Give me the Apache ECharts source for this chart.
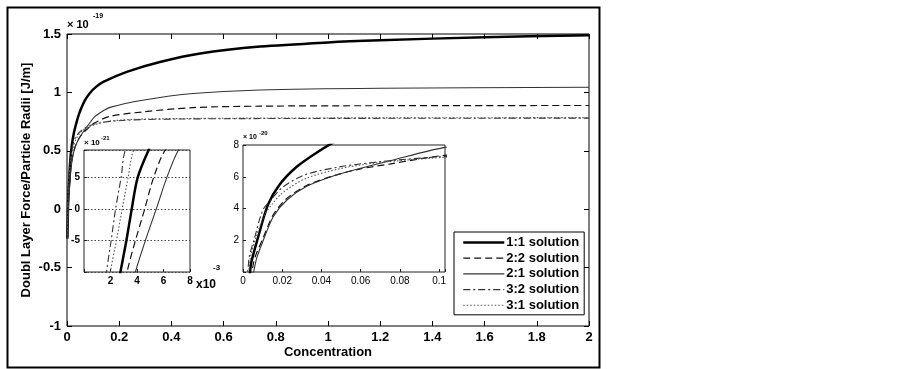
<!DOCTYPE html>
<html>
<head>
<meta charset="utf-8">
<script src="https://cdn.jsdelivr.net/npm/echarts@6/dist/echarts.min.js"></script>
<style>
  html, body { margin: 0; padding: 0; background: #fff; }
  #chart { width: 903px; height: 369px; }
</style>
</head>
<body>
<div id="chart"></div>
<script>
var seriesNames = ['1:1 solution', '2:2 solution', '2:1 solution', '3:2 solution', '3:1 solution'];

var conc11 = [0.0015, 0.00275, 0.0032, 0.0036, 0.00405, 0.00488, 0.0076, 0.0127, 0.0186, 0.0271, 0.0373, 0.0476, 0.068, 0.088, 0.11, 0.139, 0.229, 0.356, 0.51, 0.74, 1.0, 1.2, 1.6, 2.0];
var force11 = [-0.25, -0.1, -0.05, 0, 0.05, 0.094, 0.215, 0.423, 0.55, 0.66, 0.75, 0.825, 0.93, 0.995, 1.045, 1.09, 1.176, 1.26, 1.333, 1.392, 1.428, 1.446, 1.473, 1.49];

var conc22 = [0.0018, 0.00325, 0.00388, 0.00458, 0.00525, 0.00613, 0.0101, 0.0152, 0.022, 0.0322, 0.0458, 0.0594, 0.0747, 0.1028, 0.165, 0.29, 0.484, 0.74, 1.2, 2.0];
var force22 = [-0.25, -0.1, -0.05, 0, 0.05, 0.094, 0.21, 0.355, 0.46, 0.543, 0.605, 0.648, 0.68, 0.735, 0.795, 0.833, 0.87, 0.882, 0.886, 0.888];

var conc21 = [0.002, 0.00388, 0.00463, 0.00545, 0.00625, 0.00713, 0.0105, 0.0155, 0.0225, 0.0325, 0.046, 0.0594, 0.0747, 0.1028, 0.13, 0.165, 0.29, 0.484, 0.74, 1.2, 2.0];
var force21 = [-0.25, -0.1, -0.05, 0, 0.05, 0.094, 0.205, 0.35, 0.455, 0.54, 0.605, 0.652, 0.70, 0.785, 0.83, 0.872, 0.933, 0.99, 1.02, 1.035, 1.044];

var conc32 = [0.001, 0.0017, 0.00205, 0.00238, 0.0028, 0.00313, 0.0059, 0.0101, 0.014, 0.0203, 0.0322, 0.0492, 0.0662, 0.0833, 0.1023, 0.165, 0.3, 0.74, 2.0];
var force32 = [-0.25, -0.1, -0.05, 0, 0.05, 0.094, 0.215, 0.39, 0.45, 0.535, 0.615, 0.662, 0.69, 0.71, 0.727, 0.752, 0.768, 0.776, 0.78];

var conc31 = [0.0012, 0.002, 0.00245, 0.00288, 0.00333, 0.00375, 0.0065, 0.011, 0.015, 0.0203, 0.0322, 0.0492, 0.0662, 0.0833, 0.1023, 0.165, 0.3, 0.74, 2.0];
var force31 = [-0.25, -0.1, -0.05, 0, 0.05, 0.094, 0.215, 0.36, 0.43, 0.5, 0.59, 0.65, 0.685, 0.705, 0.722, 0.755, 0.772, 0.78, 0.784];

var concs = [conc11, conc22, conc21, conc32, conc31];
var forces = [force11, force22, force21, force32, force31];

var styles = [
  { color: '#000', width: 2.5, type: 'solid' },
  { color: '#111', width: 1.2, type: [7, 4] },
  { color: '#333', width: 1.1, type: 'solid' },
  { color: '#333', width: 1.1, type: [7, 3, 2, 3] },
  { color: '#555', width: 1.1, type: [1.5, 2] }
];

var FONT = 'Liberation Sans';

function pairs(xs, ys) {
  var out = [];
  for (var i = 0; i < xs.length; i++) out.push([xs[i], ys[i]]);
  return out;
}

var series = [];
[0, 2, 3].forEach(function (ax) {
  for (var i = 0; i < seriesNames.length; i++) {
    series.push({
      name: seriesNames[i],
      type: 'line',
      xAxisIndex: ax,
      yAxisIndex: ax,
      data: pairs(concs[i], forces[i]),
      showSymbol: false,
      symbol: 'none',
      smooth: 0.3,
      clip: true,
      animation: false,
      itemStyle: { color: styles[i].color },
      lineStyle: { color: styles[i].color, width: styles[i].width, type: styles[i].type }
    });
  }
});

function labelIn(list, scale) {
  return function (v) {
    var s = Math.round(v * scale * 1000) / 1000;
    return list.indexOf(s) >= 0 ? String(s) : '';
  };
}

var chart = echarts.init(document.getElementById('chart'));
chart.setOption({
  animation: false,
  backgroundColor: '#fff',
  grid: [
    { left: 67, top: 34, width: 522, height: 292, show: true, borderColor: '#000', borderWidth: 1, backgroundColor: '#fff' },
    { left: 84, top: 150, width: 106, height: 122, show: true, borderColor: '#222', borderWidth: 1, backgroundColor: '#fff' },
    { left: 243, top: 145, width: 202, height: 127, show: true, borderColor: '#222', borderWidth: 1, backgroundColor: '#fff' }
  ],
  xAxis: [
    {
      gridIndex: 0, type: 'value', min: 0, max: 2, interval: 0.2,
      name: 'Concentration', nameLocation: 'middle', nameGap: 20, nameMoveOverlap: false,
      nameTextStyle: { fontFamily: FONT, fontWeight: 'bold', fontSize: 13, color: '#000' },
      axisLine: { show: false, onZero: false },
      axisTick: { inside: true, length: 5, lineStyle: { color: '#000' } },
      axisLabel: { fontFamily: FONT, fontWeight: 'bold', fontSize: 13, color: '#000', margin: 5 },
      splitLine: { show: false }
    },
    {
      gridIndex: 0, type: 'value', position: 'top', min: 0, max: 2, interval: 0.2,
      axisLine: { show: false, onZero: false },
      axisTick: { inside: true, length: 5, lineStyle: { color: '#000' } },
      axisLabel: { show: false }, splitLine: { show: false }
    },
    {
      gridIndex: 1, type: 'value', min: 0, max: 0.008, interval: 0.002,
      axisLine: { show: false, onZero: false },
      axisTick: { inside: true, length: 3, lineStyle: { color: '#222' } },
      axisLabel: { fontFamily: FONT, fontWeight: 'bold', fontSize: 10, color: '#000', margin: 4,
        formatter: labelIn([2, 4, 6, 8], 1000) },
      splitLine: { show: false }
    },
    {
      gridIndex: 2, type: 'value', min: 0, max: 0.103, interval: 0.02,
      axisLine: { show: false, onZero: false },
      axisTick: { inside: true, length: 3, lineStyle: { color: '#222' } },
      axisLabel: { fontFamily: FONT, fontSize: 10, color: '#000', margin: 4,
        formatter: labelIn([0, 0.02, 0.04, 0.06, 0.08, 0.1], 1) },
      splitLine: { show: false }
    }
  ],
  yAxis: [
    {
      gridIndex: 0, type: 'value', min: -1, max: 1.5, interval: 0.5,
      name: 'Doubl Layer Force/Particle Radii [J/m]', nameLocation: 'middle', nameGap: 34, nameMoveOverlap: false,
      nameTextStyle: { fontFamily: FONT, fontWeight: 'bold', fontSize: 13, color: '#000' },
      axisLine: { show: false, onZero: false },
      axisTick: { inside: true, length: 5, lineStyle: { color: '#000' } },
      axisLabel: { fontFamily: FONT, fontWeight: 'bold', fontSize: 13, color: '#000', margin: 6 },
      splitLine: { show: false }
    },
    {
      gridIndex: 0, type: 'value', position: 'right', min: -1, max: 1.5, interval: 0.5,
      axisLine: { show: false, onZero: false },
      axisTick: { inside: true, length: 5, lineStyle: { color: '#000' } },
      axisLabel: { show: false }, splitLine: { show: false }
    },
    {
      gridIndex: 1, type: 'value', min: -0.1, max: 0.094, interval: 0.05,
      axisLine: { show: false, onZero: false },
      axisTick: { inside: true, length: 3, lineStyle: { color: '#222' } },
      axisLabel: { fontFamily: FONT, fontWeight: 'bold', fontSize: 10, color: '#000', margin: 4,
        formatter: labelIn([-5, 0, 5], 100) },
      splitLine: { show: true, lineStyle: { color: '#444', type: [1.5, 2], width: 1 } }
    },
    {
      gridIndex: 2, type: 'value', min: 0, max: 0.8, interval: 0.2,
      axisLine: { show: false, onZero: false },
      axisTick: { inside: true, length: 3, lineStyle: { color: '#222' } },
      axisLabel: { fontFamily: FONT, fontSize: 10, color: '#000', margin: 4,
        formatter: labelIn([2, 4, 6, 8], 10) },
      splitLine: { show: false }
    }
  ],
  legend: {
    orient: 'vertical',
    left: 454, top: 232,
    data: seriesNames,
    itemWidth: 41, itemHeight: 14, itemGap: 2.7,
    padding: [4, 5, 3, 8],
    borderColor: '#000', borderWidth: 1, backgroundColor: '#fff',
    selectedMode: false,
    itemStyle: { opacity: 0 },
    lineStyle: { width: 'inherit' },
    textStyle: { fontFamily: FONT, fontWeight: 'bold', fontSize: 13, color: '#000', padding: [0, 0, 0, -3] }
  },
  graphic: [
    { type: 'rect', left: 5, top: 5, shape: { width: 592, height: 360 }, style: { fill: 'none', stroke: '#000', lineWidth: 2 } },
    { type: 'text', left: 67, top: 19, style: { text: '\u00d7 10', font: 'bold 11px "Liberation Sans"', fill: '#000' } },
    { type: 'text', left: 93, top: 13, style: { text: '-19', font: 'bold 7px "Liberation Sans"', fill: '#000' } },
    { type: 'text', left: 84, top: 139, style: { text: '\u00d7 10', font: 'bold 8px "Liberation Sans"', fill: '#000' } },
    { type: 'text', left: 101, top: 135, style: { text: '-21', font: 'bold 6px "Liberation Sans"', fill: '#000' } },
    { type: 'text', left: 243, top: 134, style: { text: '\u00d7 10', font: 'bold 7px "Liberation Sans"', fill: '#000' } },
    { type: 'text', left: 259, top: 130, style: { text: '-20', font: 'bold 6px "Liberation Sans"', fill: '#000' } },
    { type: 'text', left: 196, top: 279, style: { text: 'x10', font: 'bold 12px "Liberation Sans"', fill: '#000' } },
    { type: 'text', left: 213, top: 264, style: { text: '-3', font: 'bold 8px "Liberation Sans"', fill: '#000' } }
  ],
  series: series
});
</script>
</body>
</html>
